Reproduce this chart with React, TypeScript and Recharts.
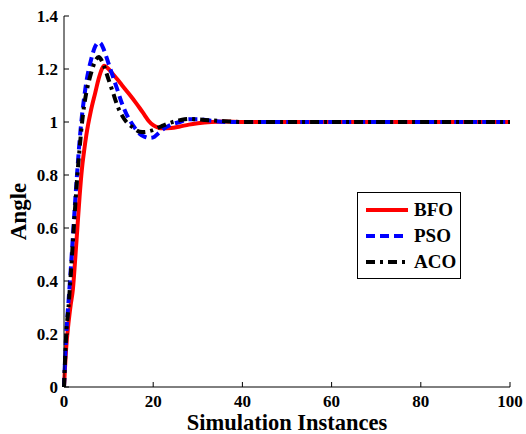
import { LineChart, Line, XAxis, YAxis } from "recharts";

const times = [0, 0.5, 1, 1.5, 2, 2.5, 3, 3.5, 4, 4.5, 5, 6, 7, 7.8, 8.5, 9, 10, 11, 12, 13, 14, 15, 16, 17, 18, 19, 20, 21, 22, 24, 26, 28, 30, 33, 36, 40, 50, 60, 70, 80, 90, 100];
const bfo = [0, 0.15, 0.24, 0.31, 0.37, 0.48, 0.6, 0.72, 0.82, 0.89, 0.95, 1.04, 1.11, 1.165, 1.2, 1.212, 1.2, 1.18, 1.16, 1.139, 1.118, 1.097, 1.075, 1.052, 1.028, 1.004, 0.988, 0.98, 0.976, 0.977, 0.983, 0.99, 0.995, 1.0, 1.002, 1.0, 1, 1, 1, 1, 1, 1];
const pso = [0, 0.2, 0.32, 0.44, 0.57, 0.7, 0.82, 0.93, 1.02, 1.09, 1.15, 1.23, 1.285, 1.3, 1.29, 1.27, 1.22, 1.17, 1.12, 1.07, 1.03, 1.0, 0.975, 0.955, 0.945, 0.94, 0.942, 0.955, 0.97, 0.99, 1.0, 1.01, 1.01, 1.005, 1.0, 1.0, 1, 1, 1, 1, 1, 1];
const aco = [0, 0.2, 0.3, 0.42, 0.55, 0.68, 0.8, 0.9, 0.99, 1.06, 1.11, 1.18, 1.23, 1.245, 1.23, 1.21, 1.16, 1.11, 1.06, 1.025, 1.0, 0.985, 0.972, 0.963, 0.962, 0.965, 0.97, 0.978, 0.985, 0.998, 1.007, 1.012, 1.01, 1.006, 1.003, 1.0, 1, 1, 1, 1, 1, 1];

const xTicks = [0, 20, 40, 60, 80, 100];
const yTicks = [0, 0.2, 0.4, 0.6, 0.8, 1, 1.2, 1.4];

const legendItems = [
  { name: "BFO", color: "#ff0000", dash: undefined },
  { name: "PSO", color: "#0000ff", dash: "9 5" },
  { name: "ACO", color: "#000000", dash: "9 5 3 5" },
];

const data = times.map((t, i) => ({ t, bfo: bfo[i], pso: pso[i], aco: aco[i] }));

const font = "'Liberation Serif', 'Times New Roman', serif";

function fmt(v: number) {
  return String(Number(v.toFixed(1)));
}

function BottomTick({ x, y, payload }: any) {
  return (
    <g>
      <line x1={x} y1={y} x2={x} y2={y - 5} stroke="#000" />
      <text x={x} y={y + 20} textAnchor="middle" fontFamily={font} fontWeight="bold" fontSize={17} fill="#000">
        {payload.value}
      </text>
    </g>
  );
}

function LeftTick({ x, y, payload }: any) {
  return (
    <g>
      <line x1={x} y1={y} x2={x + 5} y2={y} stroke="#000" />
      <text x={x - 6} y={y + 6} textAnchor="end" fontFamily={font} fontWeight="bold" fontSize={17} fill="#000">
        {fmt(payload.value)}
      </text>
    </g>
  );
}

function TopTick({ x, y }: any) {
  return <line x1={x} y1={y} x2={x} y2={y + 5} stroke="#000" />;
}

function RightTick({ x, y }: any) {
  return <line x1={x} y1={y} x2={x - 5} y2={y} stroke="#000" />;
}

// y-axis title, sits a bit below the plot's middle like the original
function AngleLabel({ viewBox }: any) {
  const cx = 26;
  const cy = viewBox.y + viewBox.height / 2 + 10;
  return (
    <text
      x={cx}
      y={cy}
      transform={`rotate(-90, ${cx}, ${cy})`}
      textAnchor="middle"
      fontFamily={font}
      fontWeight="bold"
      fontSize={23}
      fill="#000"
    >
      Angle
    </text>
  );
}

function LegendBox() {
  return (
    <div
      style={{
        position: "absolute",
        left: 357,
        top: 192,
        border: "1px solid #000",
        background: "#fff",
        width: 104,
        height: 87,
        boxSizing: "border-box",
        padding: "4px 0 0 8px",
        fontFamily: font,
        fontWeight: "bold",
        fontSize: 19,
      }}
    >
      {legendItems.map((it) => (
        <div key={it.name} style={{ display: "flex", alignItems: "center", height: 26 }}>
          <svg width={44} height={8} style={{ marginRight: 4 }}>
            <line x1={0} y1={4} x2={42} y2={4} stroke={it.color} strokeWidth={4} strokeDasharray={it.dash} />
          </svg>
          <span>{it.name}</span>
        </div>
      ))}
    </div>
  );
}

export default function App() {
  return (
    <div style={{ position: "absolute", left: 0, top: 0, width: 526, height: 434, background: "#fff" }}>
      <LineChart width={526} height={434} data={data} margin={{ top: 16, right: 16, bottom: 0, left: 0 }}>
        <XAxis
          dataKey="t"
          type="number"
          domain={[0, 100]}
          ticks={xTicks}
          tick={<BottomTick />}
          tickSize={0}
          tickMargin={0}
          tickLine={false}
          axisLine={{ stroke: "#000" }}
          height={47}
          interval={0}
          label={{
            value: "Simulation Instances",
            position: "insideBottom",
            offset: 4,
            style: { fontFamily: font, fontWeight: "bold", fontSize: 22.5, fill: "#000" },
          }}
        />
        <XAxis
          xAxisId="top"
          orientation="top"
          dataKey="t"
          type="number"
          domain={[0, 100]}
          ticks={xTicks}
          tick={<TopTick />}
          tickSize={0}
          tickMargin={0}
          tickLine={false}
          axisLine={{ stroke: "#000" }}
          height={0}
          interval={0}
        />
        <YAxis
          type="number"
          domain={[0, 1.4]}
          ticks={yTicks}
          tick={<LeftTick />}
          tickSize={0}
          tickMargin={0}
          tickLine={false}
          axisLine={{ stroke: "#000" }}
          width={64}
          interval={0}
          label={<AngleLabel />}
        />
        <YAxis
          yAxisId="right"
          orientation="right"
          type="number"
          domain={[0, 1.4]}
          ticks={yTicks}
          tick={<RightTick />}
          tickSize={0}
          tickMargin={0}
          tickLine={false}
          axisLine={{ stroke: "#000" }}
          width={0}
          interval={0}
        />
        <Line type="monotone" dataKey="bfo" name="BFO" stroke="#ff0000" strokeWidth={4} dot={false} isAnimationActive={false} />
        <Line type="monotone" dataKey="pso" name="PSO" stroke="#0000ff" strokeWidth={4} strokeDasharray="9 5" dot={false} isAnimationActive={false} />
        <Line type="monotone" dataKey="aco" name="ACO" stroke="#000000" strokeWidth={4} strokeDasharray="9 5 3 5" dot={false} isAnimationActive={false} />
      </LineChart>
      <LegendBox />
    </div>
  );
}
